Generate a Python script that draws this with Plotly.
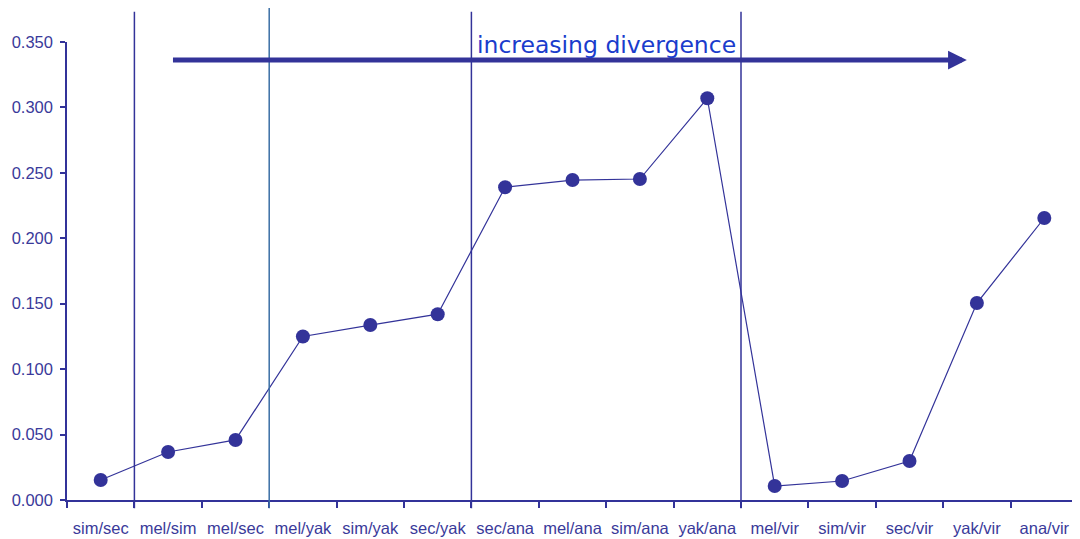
import plotly.graph_objects as go

categories = ["sim/sec", "mel/sim", "mel/sec", "mel/yak", "sim/yak", "sec/yak",
              "sec/ana", "mel/ana", "sim/ana", "yak/ana",
              "mel/vir", "sim/vir", "sec/vir", "yak/vir", "ana/vir"]
values = [0.0153, 0.0367, 0.0459, 0.125, 0.1337, 0.142,
          0.239, 0.2445, 0.2453, 0.307,
          0.0107, 0.0145, 0.0298, 0.1505, 0.2155]
ytick_vals = [0.0, 0.05, 0.10, 0.15, 0.20, 0.25, 0.30, 0.35]
ytick_text = ["0.000", "0.050", "0.100", "0.150", "0.200", "0.250", "0.300", "0.350"]
divider_positions = [0.5, 2.5, 5.5, 9.5]
divider_colors = ["#333399", "#3a6ea5", "#333399", "#333399"]
divider_tops = [1.066, 1.076, 1.066, 1.066]

C = "#333399"
fig = go.Figure()
fig.add_trace(go.Scatter(
    x=categories, y=values, mode="lines+markers",
    line=dict(color=C, width=1.2),
    marker=dict(color=C, size=14, symbol="circle"),
    showlegend=False, cliponaxis=False))

shapes = []
for xp, col, top in zip(divider_positions, divider_colors, divider_tops):
    shapes.append(dict(type="line", xref="x", yref="paper", x0=xp, x1=xp,
                       y0=-0.018, y1=top, line=dict(color=col, width=1.5), layer="above"))
fig.update_layout(shapes=shapes)

# arrow
fig.add_annotation(x=12.85, y=0.3362, ax=1.05, ay=0.3362, xref="x", yref="y",
                   axref="x", ayref="y", showarrow=True, arrowhead=2,
                   arrowsize=0.75, arrowwidth=5, arrowcolor=C, text="")
fig.add_annotation(x=7.5, y=0.3362, xref="x", yref="y", yshift=-1, yanchor="bottom",
                   text="increasing divergence", showarrow=False,
                   font=dict(family="DejaVu Sans", size=23.5, color="#1a3ccc"))

fig.update_layout(
    width=1072, height=531,
    margin=dict(l=59, r=2, t=34, b=39, autoexpand=False),
    paper_bgcolor="white", plot_bgcolor="white",
    font=dict(family="Liberation Sans, Arial", size=16.5, color="#3a3a9a"),
    xaxis=dict(type="category", range=[-0.5, 14.5], tickson="boundaries",
               ticks="outside", ticklen=6, tickwidth=1.5, tickcolor=C,
               showline=True, linecolor=C, linewidth=1.5, showgrid=False,
               zeroline=False, tickfont=dict(size=16.5), ticklabelstandoff=12,
               tickangle=0, automargin=False),
    yaxis=dict(range=[0, 0.35], tickvals=ytick_vals, ticktext=ytick_text,
               ticks="outside", ticklen=5, tickwidth=1.5, tickcolor=C,
               showline=True, linecolor=C, linewidth=1.5, showgrid=False,
               zeroline=False, tickfont=dict(size=16.5), ticklabelstandoff=4,
               automargin=False),
)
fig.write_html("out.html")
